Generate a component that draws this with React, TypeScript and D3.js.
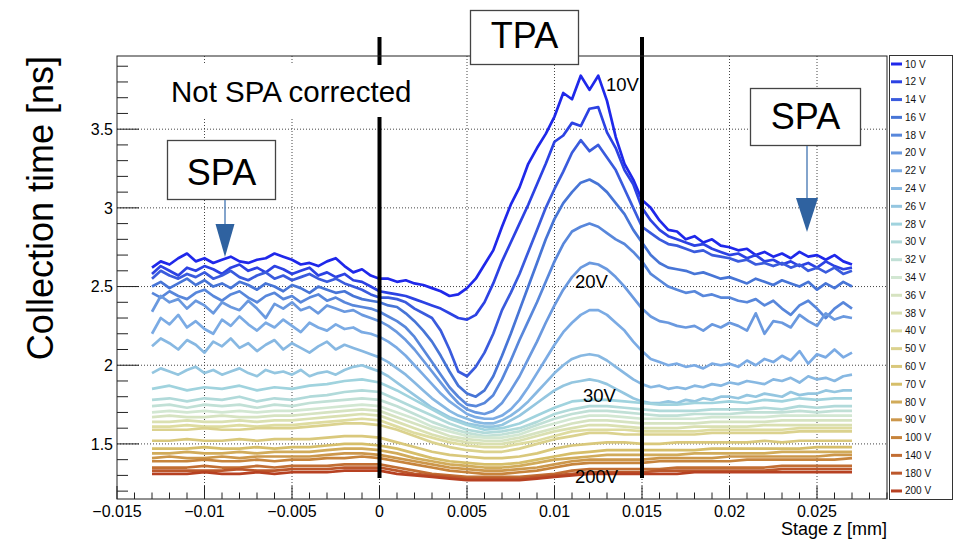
import React from 'react';
import * as d3 from 'd3';

// Stage positions of the scans (mm)
const zFine = [-0.013,-0.0125,-0.012,-0.0115,-0.011,-0.0105,-0.01,-0.0095,-0.009,-0.0085,-0.008,-0.0075,-0.007,-0.0065,-0.006,-0.0055,-0.005,-0.0045,-0.004,-0.0035,-0.003,-0.0025,-0.002,-0.0015,-0.001,-0.0005,
  0,0.0005,0.001,0.0015,0.002,0.0025,0.003,0.0035,0.004,0.0045,0.005,0.0055,0.006,0.0065,0.007,0.0075,0.008,0.0085,0.009,0.0095,0.01,0.0105,0.011,0.0115,0.012,0.0125,0.013,0.0135,0.014,0.0145,0.015,0.0155,0.016,0.0165,0.017,0.0175,0.018,0.0185,0.019,0.0195,0.02,0.0205,0.021,0.0215,0.022,0.0225,0.023,0.0235,0.024,0.0245,0.025,0.0255,0.026,0.0265,0.027];
const zCoarse = [-0.013,-0.012,-0.011,-0.01,-0.009,-0.008,-0.007,-0.006,-0.005,-0.004,-0.003,-0.002,-0.001,
  0,0.001,0.002,0.003,0.004,0.005,0.006,0.007,0.008,0.009,0.01,0.011,0.012,0.013,0.014,0.015,0.016,0.017,0.018,0.019,0.02,0.021,0.022,0.023,0.024,0.025,0.026,0.027];

// Collection time (ns) per bias voltage
const t10 = [2.62,2.66,2.64,2.68,2.71,2.66,2.68,2.65,2.67,2.69,2.66,2.65,2.67,2.68,2.71,2.69,2.67,2.64,2.65,2.63,2.66,2.68,2.63,2.59,2.61,2.57,
  2.55,2.55,2.53,2.54,2.52,2.51,2.49,2.47,2.44,2.45,2.49,2.55,2.64,2.73,2.88,3.02,3.13,3.28,3.38,3.47,3.58,3.73,3.69,3.84,3.75,3.84,3.68,3.45,3.28,3.18,3.05,3.0,2.92,2.86,2.85,2.80,2.82,2.78,2.80,2.76,2.75,2.73,2.74,2.70,2.72,2.69,2.71,2.68,2.72,2.69,2.70,2.67,2.70,2.66,2.64];
const t12 = [2.58,2.63,2.60,2.57,2.62,2.60,2.63,2.61,2.58,2.62,2.64,2.60,2.62,2.59,2.63,2.61,2.58,2.60,2.62,2.57,2.59,2.56,2.58,2.54,2.53,2.50,
  2.47,2.46,2.45,2.44,2.42,2.40,2.38,2.36,2.33,2.30,2.29,2.32,2.40,2.52,2.66,2.78,2.90,3.02,3.15,3.28,3.42,3.46,3.54,3.52,3.63,3.64,3.48,3.38,3.24,3.15,3.00,2.92,2.86,2.82,2.80,2.78,2.76,2.77,2.74,2.72,2.70,2.71,2.68,2.70,2.66,2.67,2.64,2.66,2.63,2.65,2.62,2.66,2.63,2.61,2.62];
const t14 = [2.55,2.60,2.57,2.55,2.58,2.56,2.59,2.55,2.57,2.60,2.56,2.54,2.57,2.59,2.55,2.57,2.54,2.56,2.58,2.55,2.53,2.55,2.52,2.50,2.48,2.45,
  2.43,2.43,2.42,2.40,2.36,2.33,2.30,2.22,2.10,1.96,1.93,1.99,2.08,2.20,2.35,2.46,2.58,2.72,2.86,3.00,3.12,3.23,3.35,3.43,3.36,3.40,3.32,3.24,3.12,3.00,2.88,2.84,2.80,2.77,2.76,2.74,2.72,2.73,2.70,2.69,2.68,2.66,2.67,2.64,2.65,2.63,2.65,2.62,2.64,2.60,2.62,2.59,2.62,2.58,2.60];
const t16 = [2.50,2.53,2.49,2.52,2.55,2.51,2.54,2.50,2.52,2.49,2.53,2.51,2.48,2.52,2.50,2.47,2.51,2.49,2.46,2.50,2.48,2.46,2.47,2.44,2.42,2.41,
  2.40,2.38,2.37,2.33,2.28,2.22,2.15,2.06,1.96,1.87,1.82,1.80,1.84,1.93,2.06,2.20,2.35,2.50,2.65,2.80,2.93,3.03,3.10,3.16,3.18,3.15,3.10,3.03,2.96,2.86,2.78,2.70,2.65,2.62,2.61,2.60,2.58,2.59,2.57,2.55,2.56,2.54,2.52,2.55,2.53,2.51,2.54,2.52,2.50,2.53,2.48,2.52,2.49,2.53,2.50];
const t18 = [2.46,2.43,2.47,2.44,2.42,2.46,2.48,2.44,2.41,2.45,2.47,2.43,2.40,2.44,2.46,2.42,2.44,2.40,2.43,2.45,2.41,2.43,2.40,2.38,2.37,2.36,
  2.34,2.31,2.28,2.24,2.18,2.10,2.02,1.94,1.86,1.80,1.75,1.74,1.76,1.81,1.91,2.03,2.16,2.28,2.40,2.53,2.66,2.77,2.85,2.88,2.90,2.88,2.84,2.80,2.77,2.72,2.66,2.58,2.54,2.50,2.48,2.46,2.47,2.44,2.45,2.43,2.43,2.41,2.40,2.42,2.38,2.41,2.36,2.32,2.38,2.41,2.36,2.30,2.36,2.40,2.36];
const t20 = [2.34,2.44,2.40,2.42,2.36,2.41,2.38,2.33,2.40,2.37,2.35,2.41,2.36,2.30,2.39,2.36,2.40,2.35,2.37,2.33,2.38,2.36,2.34,2.35,2.32,2.30,
  2.28,2.25,2.21,2.16,2.10,2.03,1.96,1.89,1.82,1.76,1.72,1.70,1.69,1.71,1.76,1.84,1.93,2.04,2.15,2.27,2.38,2.48,2.56,2.62,2.65,2.64,2.61,2.56,2.50,2.43,2.36,2.31,2.28,2.27,2.25,2.24,2.25,2.22,2.26,2.24,2.27,2.25,2.22,2.33,2.20,2.28,2.27,2.24,2.32,2.28,2.25,2.33,2.29,2.31,2.30];
const t22 = [2.20,2.30,2.26,2.32,2.24,2.28,2.23,2.20,2.29,2.25,2.31,2.26,2.22,2.27,2.24,2.29,2.25,2.21,2.27,2.24,2.22,2.26,2.23,2.24,2.21,2.20,
  2.18,2.15,2.11,2.06,2.00,1.94,1.88,1.82,1.77,1.73,1.69,1.67,1.66,1.66,1.68,1.72,1.78,1.86,1.95,2.04,2.13,2.21,2.27,2.32,2.35,2.35,2.32,2.27,2.22,2.15,2.09,2.04,2.02,2.00,2.01,1.99,2.00,1.98,2.01,2.00,2.01,1.99,2.03,2.00,2.04,2.02,2.06,2.03,2.09,2.01,2.07,2.05,2.10,2.05,2.08];
const t24 = [2.12,2.17,2.14,2.10,2.16,2.13,2.08,2.15,2.12,2.17,2.11,2.14,2.09,2.13,2.16,2.10,2.14,2.11,2.08,2.12,2.15,2.10,2.13,2.11,2.09,2.07,
  2.05,2.02,1.98,1.94,1.89,1.84,1.79,1.75,1.71,1.68,1.66,1.64,1.63,1.63,1.65,1.68,1.72,1.77,1.83,1.89,1.95,2.00,2.04,2.06,2.07,2.06,2.03,1.99,1.95,1.91,1.88,1.86,1.87,1.85,1.86,1.85,1.87,1.86,1.88,1.87,1.89,1.88,1.90,1.89,1.88,1.91,1.90,1.92,1.89,1.93,1.91,1.92,1.90,1.93,1.94];
const t26 = [1.95,1.98,1.96,1.94,1.97,1.99,1.95,1.97,1.94,1.96,1.98,1.95,1.93,1.97,1.95,1.96,1.94,1.97,1.93,1.95,1.96,1.94,1.97,1.99,2.00,1.98,
  1.96,1.93,1.89,1.85,1.81,1.77,1.73,1.70,1.67,1.65,1.63,1.62,1.61,1.61,1.62,1.65,1.68,1.72,1.76,1.80,1.84,1.87,1.89,1.90,1.91,1.90,1.88,1.85,1.82,1.79,1.77,1.76,1.76,1.77,1.76,1.78,1.77,1.79,1.78,1.80,1.80,1.79,1.81,1.80,1.82,1.81,1.80,1.83,1.81,1.82,1.82,1.84,1.83,1.84,1.84];
const t28 = [1.85,1.87,1.84,1.86,1.85,1.87,1.84,1.86,1.85,1.87,1.88,1.90,1.91,1.89,1.84,1.78,1.72,1.66,1.62,1.59,1.60,1.63,1.68,1.73,1.77,1.78,1.78,1.77,1.76,1.75,1.75,1.76,1.76,1.77,1.76,1.78,1.77,1.79,1.78,1.79,1.79];
const t30 = [1.78,1.79,1.77,1.79,1.78,1.80,1.77,1.79,1.78,1.80,1.81,1.83,1.84,1.83,1.78,1.73,1.68,1.63,1.59,1.57,1.58,1.60,1.64,1.69,1.72,1.74,1.74,1.73,1.72,1.71,1.71,1.71,1.72,1.72,1.72,1.73,1.72,1.74,1.73,1.74,1.74];
const t32 = [1.74,1.75,1.73,1.75,1.74,1.75,1.73,1.75,1.74,1.76,1.77,1.78,1.79,1.78,1.74,1.69,1.64,1.60,1.57,1.55,1.56,1.58,1.62,1.66,1.69,1.71,1.71,1.70,1.69,1.68,1.68,1.69,1.69,1.69,1.70,1.70,1.70,1.71,1.70,1.71,1.71];
const t34 = [1.70,1.71,1.70,1.71,1.70,1.71,1.70,1.71,1.71,1.72,1.73,1.74,1.75,1.74,1.70,1.66,1.61,1.58,1.55,1.54,1.54,1.56,1.60,1.63,1.66,1.68,1.68,1.67,1.66,1.66,1.66,1.66,1.67,1.67,1.67,1.67,1.68,1.68,1.68,1.68,1.68];
const t36 = [1.67,1.68,1.67,1.67,1.68,1.67,1.67,1.68,1.68,1.69,1.70,1.71,1.72,1.71,1.67,1.63,1.59,1.55,1.53,1.52,1.52,1.54,1.57,1.60,1.63,1.65,1.65,1.64,1.63,1.63,1.63,1.63,1.64,1.64,1.64,1.64,1.65,1.65,1.65,1.65,1.65];
const t38 = [1.64,1.64,1.65,1.64,1.64,1.65,1.64,1.65,1.65,1.66,1.67,1.68,1.69,1.68,1.64,1.60,1.56,1.53,1.51,1.50,1.50,1.52,1.55,1.58,1.60,1.62,1.62,1.61,1.60,1.60,1.60,1.61,1.61,1.61,1.61,1.62,1.62,1.62,1.62,1.62,1.62];
const t40 = [1.61,1.61,1.62,1.61,1.61,1.62,1.61,1.62,1.62,1.63,1.64,1.65,1.66,1.65,1.61,1.57,1.54,1.51,1.49,1.48,1.48,1.50,1.52,1.55,1.58,1.59,1.59,1.59,1.58,1.58,1.58,1.58,1.59,1.59,1.59,1.59,1.59,1.60,1.60,1.60,1.60];
const t50 = [1.59,1.59,1.59,1.60,1.59,1.59,1.60,1.60,1.60,1.61,1.62,1.63,1.63,1.62,1.59,1.55,1.51,1.48,1.46,1.45,1.45,1.47,1.50,1.53,1.55,1.57,1.57,1.56,1.56,1.56,1.56,1.56,1.57,1.57,1.57,1.57,1.57,1.58,1.58,1.58,1.58];
const t60 = [1.52,1.52,1.53,1.52,1.52,1.53,1.52,1.53,1.53,1.53,1.54,1.55,1.55,1.54,1.51,1.48,1.45,1.43,1.42,1.41,1.41,1.42,1.44,1.47,1.49,1.50,1.51,1.51,1.50,1.50,1.51,1.51,1.51,1.51,1.51,1.52,1.51,1.52,1.52,1.52,1.52];
const t70 = [1.47,1.47,1.47,1.48,1.47,1.47,1.48,1.47,1.48,1.48,1.49,1.50,1.50,1.49,1.47,1.44,1.41,1.39,1.38,1.37,1.37,1.38,1.40,1.42,1.44,1.45,1.46,1.46,1.46,1.46,1.46,1.46,1.47,1.47,1.47,1.47,1.47,1.47,1.48,1.48,1.48];
const t80 = [1.44,1.44,1.45,1.44,1.44,1.45,1.44,1.45,1.45,1.45,1.46,1.47,1.47,1.46,1.44,1.41,1.39,1.37,1.36,1.35,1.35,1.36,1.38,1.40,1.41,1.42,1.43,1.43,1.43,1.43,1.43,1.44,1.44,1.44,1.44,1.44,1.45,1.45,1.45,1.45,1.45];
const t90 = [1.41,1.42,1.41,1.41,1.42,1.41,1.42,1.42,1.42,1.42,1.43,1.44,1.44,1.43,1.41,1.39,1.37,1.35,1.34,1.33,1.33,1.34,1.35,1.37,1.39,1.40,1.40,1.40,1.40,1.41,1.41,1.41,1.41,1.42,1.42,1.42,1.42,1.42,1.42,1.43,1.43];
const t100 = [1.39,1.39,1.39,1.40,1.39,1.39,1.40,1.39,1.40,1.40,1.41,1.41,1.42,1.41,1.39,1.37,1.35,1.33,1.32,1.31,1.31,1.32,1.33,1.35,1.37,1.38,1.38,1.38,1.38,1.39,1.39,1.39,1.39,1.39,1.40,1.40,1.40,1.40,1.40,1.40,1.41];
const t140 = [1.35,1.35,1.35,1.36,1.35,1.35,1.36,1.35,1.36,1.36,1.36,1.37,1.37,1.37,1.35,1.33,1.31,1.30,1.29,1.29,1.29,1.29,1.30,1.31,1.33,1.34,1.34,1.34,1.34,1.34,1.35,1.35,1.35,1.35,1.35,1.35,1.36,1.36,1.36,1.36,1.36];
const t180 = [1.33,1.33,1.33,1.33,1.33,1.34,1.33,1.33,1.34,1.34,1.34,1.35,1.35,1.35,1.33,1.31,1.30,1.29,1.28,1.28,1.28,1.28,1.29,1.30,1.31,1.32,1.32,1.32,1.32,1.33,1.33,1.33,1.33,1.33,1.33,1.33,1.34,1.34,1.34,1.34,1.34];
const t200 = [1.31,1.31,1.31,1.32,1.31,1.31,1.32,1.31,1.32,1.32,1.32,1.33,1.33,1.33,1.31,1.30,1.29,1.28,1.27,1.27,1.27,1.27,1.28,1.29,1.30,1.31,1.31,1.31,1.31,1.31,1.31,1.32,1.32,1.32,1.32,1.32,1.32,1.32,1.32,1.32,1.32];

const voltages = ['10 V','12 V','14 V','16 V','18 V','20 V','22 V','24 V','26 V','28 V','30 V','32 V','34 V','36 V','38 V','40 V','50 V','60 V','70 V','80 V','90 V','100 V','140 V','180 V','200 V'];
const scans = [
  { z: zFine, t: t10 }, { z: zFine, t: t12 }, { z: zFine, t: t14 }, { z: zFine, t: t16 },
  { z: zFine, t: t18 }, { z: zFine, t: t20 }, { z: zFine, t: t22 }, { z: zFine, t: t24 },
  { z: zFine, t: t26 }, { z: zCoarse, t: t28 }, { z: zCoarse, t: t30 }, { z: zCoarse, t: t32 },
  { z: zCoarse, t: t34 }, { z: zCoarse, t: t36 }, { z: zCoarse, t: t38 }, { z: zCoarse, t: t40 },
  { z: zCoarse, t: t50 }, { z: zCoarse, t: t60 }, { z: zCoarse, t: t70 }, { z: zCoarse, t: t80 },
  { z: zCoarse, t: t90 }, { z: zCoarse, t: t100 }, { z: zCoarse, t: t140 }, { z: zCoarse, t: t180 },
  { z: zCoarse, t: t200 },
];

// Light-temperature colour map stops
const paletteStops = ['rgb(31,40,234)','rgb(71,117,214)','rgb(123,171,228)','rgb(160,211,222)','rgb(210,231,210)','rgb(222,220,160)','rgb(214,190,105)','rgb(199,132,60)','rgb(183,65,34)'];

const xTickValues = [-0.015,-0.01,-0.005,0,0.005,0.01,0.015,0.02,0.025];
const xTickLabels = ['\u22120.015','\u22120.01','\u22120.005','0','0.005','0.01','0.015','0.02','0.025'];
const yTickValues = [1.5,2,2.5,3,3.5];
const yTickLabels = ['1.5','2','2.5','3','3.5'];

// Region boundaries and curve annotations (data coordinates)
const regionEdges = [0, 0.015];
const curveNotes = [
  { text: '10V', z: 0.01294, t: 3.743 },
  { text: '20V', z: 0.01117, t: 2.491 },
  { text: '30V', z: 0.01163, t: 1.768 },
  { text: '200V', z: 0.01117, t: 1.252 },
];

const FONT = "'Liberation Sans', Arial, Helvetica, sans-serif";
const W = 958, H = 541;
const L = 117, R = 887, T = 56, B = 499;

function Arrow({ cx, y0, y1, headLen, headW }: { cx: number; y0: number; y1: number; headLen: number; headW: number }) {
  return (
    <g>
      <line x1={cx} x2={cx} y1={y0} y2={y1 - headLen} stroke="#5a86bb" strokeWidth={1.5} />
      <path d={`M${cx - headW / 2},${y1 - headLen} L${cx + headW / 2},${y1 - headLen} L${cx},${y1} Z`} fill="#2f62a0" />
    </g>
  );
}

export default function App() {
  const x = d3.scaleLinear().domain([-0.015, 0.029]).range([L, R]);
  const y = d3.scaleLinear().domain([1.15, 3.965]).range([B, T]);
  const color = d3.piecewise(d3.interpolateRgb, paletteStops);
  const line = d3.line<number>();

  const xMinor = d3.range(-15, 30).filter(k => k % 5 !== 0).map(k => k * 0.001);
  const yMinor = d3.range(12, 40).filter(k => k % 5 !== 0).map(k => k / 10);

  const n = voltages.length;

  return (
    <svg width={W} height={H} style={{ position: 'absolute', left: 0, top: 0, display: 'block', background: '#fff' }} fontFamily={FONT}>
      <rect x={0} y={0} width={W} height={H} fill="#fff" />
      {/* grid */}
      <g stroke="#444" strokeWidth={1} strokeDasharray="1 2">
        {xTickValues.filter(v => v > -0.015).map(v => (
          <line key={'gx' + v} x1={x(v)} x2={x(v)} y1={T} y2={B} />
        ))}
        {yTickValues.map(v => (
          <line key={'gy' + v} x1={L} x2={R} y1={y(v)} y2={y(v)} />
        ))}
      </g>

      {/* scans */}
      <g fill="none" strokeWidth={2.7} strokeLinejoin="round">
        {scans.map((s, i) => (
          <path key={voltages[i]} stroke={color(i / (n - 1))}
            d={line.x((_, k) => x(s.z[k])).y(d => y(d))(s.t) || ''} />
        ))}
      </g>

      {/* region boundaries */}
      {regionEdges.map(v => (
        <line key={'edge' + v} x1={x(v)} x2={x(v)} y1={37} y2={478} stroke="#000" strokeWidth={4} />
      ))}

      {/* curve labels */}
      {curveNotes.map(c => (
        <text key={c.text} x={x(c.z)} y={y(c.t)} fontSize={18.5} fill="#000">{c.text}</text>
      ))}

      {/* frame */}
      <rect x={L} y={T} width={R - L} height={B - T} fill="none" stroke="#222" strokeWidth={1} />

      {/* y axis */}
      <g stroke="#222" strokeWidth={1}>
        {yTickValues.map(v => <line key={'ym' + v} x1={L} x2={L + 22} y1={y(v)} y2={y(v)} />)}
        {yMinor.map(v => <line key={'yn' + v} x1={L} x2={L + 11} y1={y(v)} y2={y(v)} />)}
      </g>
      {yTickValues.map((v, i) => (
        <text key={'yl' + v} x={113} y={y(v) + 5.7} fontSize={16} textAnchor="end" fill="#000">{yTickLabels[i]}</text>
      ))}
      <text transform={`translate(53,${T}) rotate(-90)`} fontSize={36} textAnchor="end" fill="#000">Collection time [ns]</text>

      {/* x axis */}
      <g stroke="#222" strokeWidth={1}>
        {xTickValues.map(v => <line key={'xm' + v} x1={x(v)} x2={x(v)} y1={B} y2={B - 13} />)}
        {xMinor.map(v => <line key={'xn' + v} x1={x(v)} x2={x(v)} y1={B} y2={B - 6.5} />)}
      </g>
      {xTickValues.map((v, i) => (
        <text key={'xl' + v} x={x(v)} y={517} fontSize={16} textAnchor="middle" fill="#000">{xTickLabels[i]}</text>
      ))}
      <text x={R} y={535} fontSize={18} textAnchor="end" fill="#000">Stage z [mm]</text>

      {/* region captions */}
      <rect x={163} y={65} width={258} height={52} fill="#fff" />
      <text x={171} y={102} fontSize={29.5} fill="#000">Not SPA corrected</text>

      <rect x={470.5} y={10.5} width={108} height={54} fill="#fff" stroke="#444" strokeWidth={1.3} />
      <text x={524.5} y={48} fontSize={36} textAnchor="middle" fill="#000">TPA</text>

      <rect x={167.5} y={140.5} width={108} height={59} fill="#fff" stroke="#444" strokeWidth={1.3} />
      <text x={221.5} y={185} fontSize={36} textAnchor="middle" fill="#000">SPA</text>
      <Arrow cx={225} y0={200} y1={257} headLen={33} headW={19} />

      <rect x={750.5} y={88.5} width={110} height={57} fill="#fff" stroke="#444" strokeWidth={1.3} />
      <text x={805.5} y={129} fontSize={36} textAnchor="middle" fill="#000">SPA</text>
      <Arrow cx={807} y0={146} y1={232} headLen={34} headW={22} />

      {/* legend */}
      <rect x={889.5} y={55.5} width={63} height={444} fill="#fff" stroke="#333" strokeWidth={1} />
      {voltages.map((v, i) => {
        const cy = 64 + i * 17.79;
        return (
          <g key={'lg' + v}>
            <line x1={891} x2={902} y1={cy} y2={cy} stroke={color(i / (n - 1))} strokeWidth={3} />
            <text x={905} y={cy + 3.5} fontSize={10} fill="#111">{v}</text>
          </g>
        );
      })}
    </svg>
  );
}
